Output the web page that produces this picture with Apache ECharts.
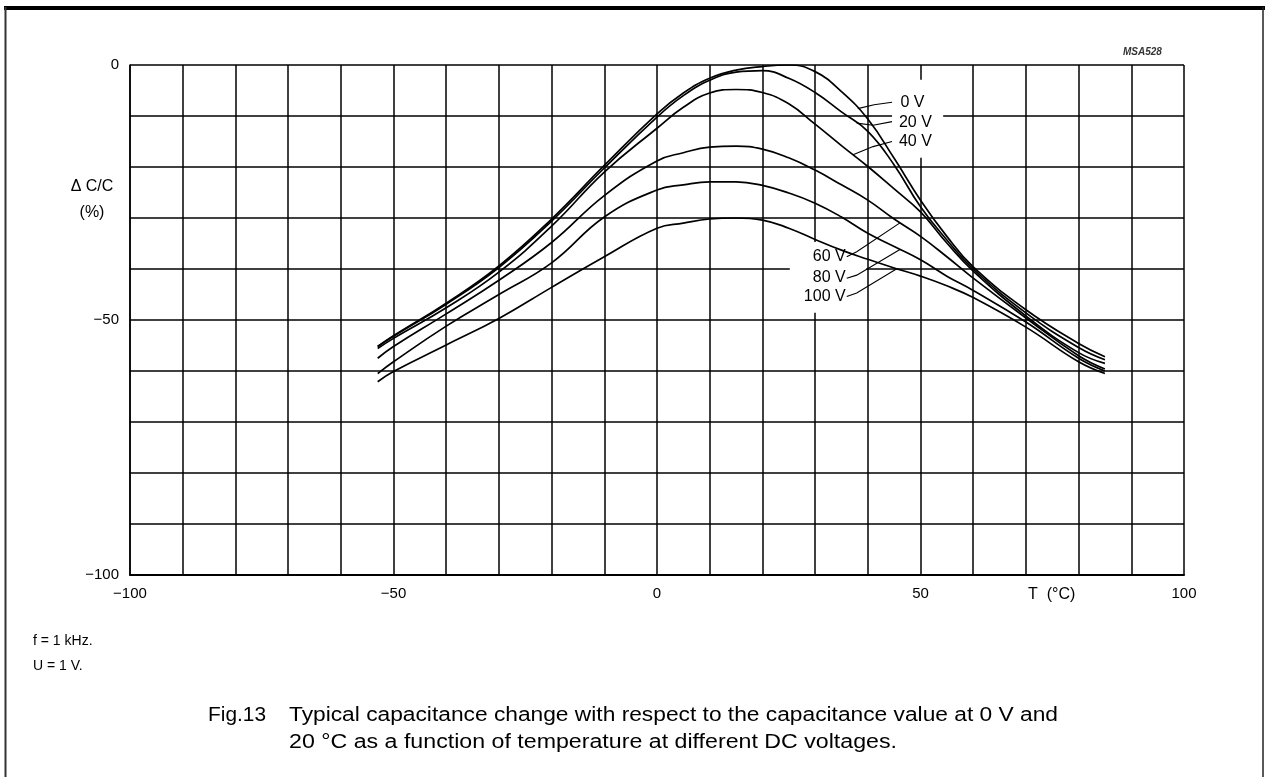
<!DOCTYPE html>
<html><head><meta charset="utf-8">
<script src="https://cdn.jsdelivr.net/npm/echarts/dist/echarts.min.js"></script>
<style>html,body{margin:0;padding:0;background:#fff;}#c{width:1265px;height:777px;}</style>
</head><body><div id="c"></div>
<script>
// ---------- data ----------
const temps = [-53, -50, -40, -30, -20, -10, 0, 5, 10, 15, 20, 25, 30, 35, 40, 45, 50, 55, 60, 70, 80, 85];
const dc0V   = [-55.2, -53.1, -46.7, -39.4, -30.2, -19.7, -9.6, -5.5, -2.6, -1.0, -0.3, 0.0, -1.3, -5.2, -10.6, -18.3, -26.5, -33.6, -39.6, -48.0, -54.6, -57.2];
const dc20V  = [-55.2, -53.2, -46.9, -39.7, -30.6, -20.2, -10.2, -6.0, -3.0, -1.4, -1.1, -2.6, -5.4, -9.2, -13.0, -19.6, -27.8, -34.3, -40.0, -48.6, -55.4, -57.8];
const dc40V  = [-55.6, -53.6, -47.6, -40.6, -31.6, -21.0, -12.4, -8.3, -5.5, -4.8, -5.4, -7.6, -11.6, -15.8, -19.9, -24.3, -28.8, -34.9, -40.4, -49.2, -56.4, -58.5];
const dc60V  = [-57.5, -55.2, -48.8, -42.2, -34.8, -25.6, -18.8, -17.2, -16.1, -15.9, -16.5, -18.2, -20.6, -23.5, -26.5, -30.2, -33.6, -37.6, -41.8, -49.6, -57.0, -59.6];
const dc80V  = [-60.5, -58.2, -51.2, -45.0, -38.8, -29.8, -24.5, -23.5, -22.9, -22.9, -23.6, -25.1, -27.1, -29.8, -33.0, -35.6, -38.2, -41.4, -44.2, -50.4, -57.5, -60.0];
const dc100V = [-62.1, -60.1, -54.9, -49.7, -43.6, -37.6, -32.0, -31.0, -30.2, -30.0, -30.4, -32.0, -34.2, -36.3, -38.1, -39.8, -41.4, -43.3, -45.6, -51.4, -58.2, -60.5];
const curveNames = ['0 V', '20 V', '40 V', '60 V', '80 V', '100 V'];
const xTickLabels = [-100, -50, 0, 50, 100];
const yTickLabels = [0, -50, -100];

// ---------- annotations (label anchors / leader lines in data units) ----------
const labelAnchors = [[46.2, -7.4], [45.9, -11.2], [45.9, -15.1], [35.8, -37.6], [35.8, -41.6], [35.8, -45.4]];
const labelAlign = ['left', 'left', 'left', 'right', 'right', 'right'];
const leaderStart = [[44.6, -7.3], [44.6, -11.1], [44.6, -15.0], [36.0, -37.6], [36.0, -41.8], [36.0, -45.4]];
const leaderMid = [[41.2, -7.8], [41.0, -11.8], [41.0, -16.0], [37.9, -36.6], [37.9, -41.2], [37.9, -44.7]];
const leaderEndT = [38.1, 37.9, 37.2, 46.1, 46.1, 45.5];
const whiteBoxes = [[[44.6, -2.9], [54.3, -18.2]], [[25.2, -34.7], [39.7, -48.6]]];

const curves = [dc0V, dc20V, dc40V, dc60V, dc80V, dc100V];
const FONT = "'Liberation Sans', Arial, Helvetica, sans-serif";
const fmt = v => String(v).replace('-', '\u2212');

function interp(arr, t) {
  for (let i = 0; i < temps.length - 1; i++) {
    if (t >= temps[i] && t <= temps[i + 1]) {
      const f = (t - temps[i]) / (temps[i + 1] - temps[i]);
      return arr[i] + f * (arr[i + 1] - arr[i]);
    }
  }
  return arr[arr.length - 1];
}

const chart = echarts.init(document.getElementById('c'), null, {renderer: 'canvas'});
const series = curves.map((arr, k) => ({
  name: curveNames[k], type: 'line', data: arr.map((v, i) => [temps[i], v]),
  symbol: 'none', smooth: 0.45, silent: true, z: 3,
  lineStyle: {color: '#000', width: 1.7}
}));

chart.setOption({
  animation: false,
  backgroundColor: '#fff',
  grid: {left: 130, top: 65, width: 1054, height: 510, containLabel: false, outerBoundsMode: 'none'},
  xAxis: {
    type: 'value', min: -100, max: 100, interval: 10,
    axisLine: {show: true, onZero: false, lineStyle: {color: '#000', width: 2}},
    axisTick: {show: false},
    splitLine: {show: true, showMinLine: true, showMaxLine: true, lineStyle: {color: '#000', width: 1.5}},
    axisLabel: {show: true, color: '#000', fontFamily: FONT, fontSize: 15, margin: 11, hideOverlap: false,
      showMinLabel: true, showMaxLabel: true,
      formatter: v => xTickLabels.includes(v) ? fmt(v) : ''}
  },
  yAxis: {
    type: 'value', min: -100, max: 0, interval: 10,
    axisLine: {show: true, onZero: false, lineStyle: {color: '#000', width: 1.5}},
    axisTick: {show: false},
    splitLine: {show: true, showMinLine: true, showMaxLine: true, lineStyle: {color: '#000', width: 1.5}},
    axisLabel: {show: true, color: '#000', fontFamily: FONT, fontSize: 15, margin: 11, hideOverlap: false,
      showMinLabel: true, showMaxLabel: true,
      formatter: v => yTickLabels.includes(v) ? fmt(v) : ''}
  },
  series: series
});

// measure helper for fitting widths
const mctx = document.createElement('canvas').getContext('2d');
function fitScale(text, font, target) {
  mctx.font = font;
  const w = mctx.measureText(text).width;
  return target / w;
}

const P = p => chart.convertToPixel({gridIndex: 0}, p);
const els = [];
// frame
els.push({type: 'line', shape: {x1: 4, y1: 8, x2: 1265, y2: 8}, style: {stroke: '#000', lineWidth: 4}, z: 10});
els.push({type: 'line', shape: {x1: 5.5, y1: 7, x2: 5.5, y2: 777}, style: {stroke: '#333', lineWidth: 2}, z: 10});
els.push({type: 'line', shape: {x1: 1263, y1: 7, x2: 1263, y2: 777}, style: {stroke: '#222', lineWidth: 1.5}, z: 10});
// white boxes hiding gridlines behind the labels
whiteBoxes.forEach(b => {
  const a = P(b[0]), c = P(b[1]);
  els.push({type: 'rect', shape: {x: a[0], y: a[1], width: c[0] - a[0], height: c[1] - a[1]},
    style: {fill: '#fff'}, z: 1, silent: true});
});
// labels + leaders
curveNames.forEach((n, k) => {
  const p = P(labelAnchors[k]);
  els.push({type: 'text', x: p[0], y: p[1], z: 5,
    style: {text: n, fill: '#000', font: '16px ' + FONT, textAlign: labelAlign[k], textVerticalAlign: 'middle'}});
  const s = P(leaderStart[k]), m = P(leaderMid[k]);
  const e = P([leaderEndT[k], interp(curves[k], leaderEndT[k])]);
  els.push({type: 'polyline', z: 5, shape: {points: [s, m, e]}, style: {stroke: '#000', lineWidth: 1.1, fill: null}});
});
// axis titles & notes
els.push({type: 'text', x: 92, y: 187, z: 5, style: {text: '\u0394 C/C', fill: '#000', font: '16px ' + FONT, textAlign: 'center', textVerticalAlign: 'middle'}});
els.push({type: 'text', x: 92, y: 213, z: 5, style: {text: '(%)', fill: '#000', font: '16px ' + FONT, textAlign: 'center', textVerticalAlign: 'middle'}});
els.push({type: 'text', x: 1028, y: 595, z: 5, style: {text: 'T  (\u00B0C)', fill: '#000', font: '16px ' + FONT, textAlign: 'left', textVerticalAlign: 'middle'}});
els.push({type: 'text', x: 1123, y: 52, z: 5, style: {text: 'MSA528', fill: '#333', font: 'italic bold 10px ' + FONT, textAlign: 'left', textVerticalAlign: 'middle'}});
els.push({type: 'text', x: 33, y: 641, z: 5, style: {text: 'f = 1 kHz.', fill: '#000', font: '14px ' + FONT, textAlign: 'left', textVerticalAlign: 'middle'}});
els.push({type: 'text', x: 33, y: 666, z: 5, style: {text: 'U = 1 V.', fill: '#000', font: '14px ' + FONT, textAlign: 'left', textVerticalAlign: 'middle'}});
// caption
const capFont = '20px ' + FONT;
const cap1 = 'Typical capacitance change with respect to the capacitance value at 0 V and';
const cap2 = '20 \u00B0C as a function of temperature at different DC voltages.';
els.push({type: 'text', x: 208, y: 715, z: 5, scaleX: fitScale('Fig.13', capFont, 58),
  style: {x: 0, y: 0, text: 'Fig.13', fill: '#000', font: capFont, textAlign: 'left', textVerticalAlign: 'middle'}});
els.push({type: 'text', x: 289, y: 715, z: 5, scaleX: fitScale(cap1, capFont, 769),
  style: {x: 0, y: 0, text: cap1, fill: '#000', font: capFont, textAlign: 'left', textVerticalAlign: 'middle'}});
els.push({type: 'text', x: 289, y: 742, z: 5, scaleX: fitScale(cap2, capFont, 608),
  style: {x: 0, y: 0, text: cap2, fill: '#000', font: capFont, textAlign: 'left', textVerticalAlign: 'middle'}});

chart.setOption({graphic: {elements: els}});
</script>
</body></html>
